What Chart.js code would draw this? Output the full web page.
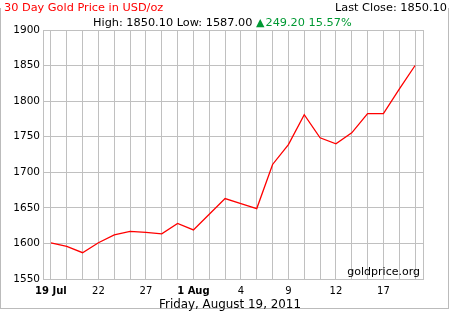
<!DOCTYPE html>
<html>
<head>
<meta charset="utf-8">
<script src="https://cdn.jsdelivr.net/npm/chart.js@4.4.1/dist/chart.umd.min.js"></script>
<style>
  body { margin: 0; background: #fff; }
  #wrap { position: relative; width: 450px; height: 311px; font-family: "DejaVu Sans", Verdana, sans-serif; }
  #chart { position: absolute; left: 0; top: 0; }
  #frame { position: absolute; left: 0; top: 8px; width: 447px; height: 300px; border: 1px solid #bbb; border-top: none; }
  .t { position: absolute; white-space: nowrap; line-height: 1; }
  #title { left: 4px; top: 2px; font-size: 11.3px; color: #ff0000; background: #fff; padding-right: 2px; }
  #close { right: 3px; top: 2px; font-size: 11.3px; color: #000; background: #fff; }
  #stats { left: 93px; top: 17px; font-size: 11.3px; color: #000; }
  #stats .up { color: #009933; }
  #stats .tri { font-size: 11px; margin-right: 1px; }
  #source { right: 30px; top: 266px; font-size: 11px; color: #000; }
  #footer { left: 0; width: 460px; text-align: center; top: 299px; font-size: 11.9px; color: #000; }
</style>
</head>
<body>
<div id="wrap">
  <div id="frame"></div>
  <canvas id="chart" width="450" height="311"></canvas>
  <div class="t" id="title">30 Day Gold Price in USD/oz</div>
  <div class="t" id="close">Last Close: 1850.10</div>
  <div class="t" id="stats">High: 1850.10 Low: 1587.00 <span class="up"><span class="tri">&#9650;</span>249.20 15.57%</span></div>
  <div class="t" id="source">goldprice.org</div>
  <div class="t" id="footer">Friday, August 19, 2011</div>
</div>
<script>
// trading days, 19 Jul - 19 Aug 2011
const dates = ['19 Jul', '20', '21', '22', '25', '26', '27', '28', '29',
  '1 Aug', '2', '3', '4', '5', '8', '9', '10', '11', '12', '15', '16', '17', '18', '19'];

// USD/oz
const prices = [1600.9, 1595.7, 1587.0, 1601.0, 1612.0, 1617.0, 1615.5, 1613.5, 1628.0,
  1619.0, 1641.0, 1663.0, 1656.0, 1649.0, 1711.0, 1739.0, 1781.0, 1748.5, 1740.0,
  1755.5, 1782.5, 1782.5, 1817.0, 1850.1];

const yMin = 1550;
const yMax = 1900;
const yStep = 50;

const gridColor = '#c0c0c0';
const fontFamily = '"DejaVu Sans", Verdana, sans-serif';

// right edge of the plot box
const plotEdge = {
  id: 'plotEdge',
  beforeDatasetsDraw(chart) {
    const { ctx, chartArea } = chart;
    ctx.save();
    ctx.strokeStyle = gridColor;
    ctx.lineWidth = 1;
    ctx.beginPath();
    ctx.moveTo(Math.round(chartArea.right) + 0.5, chartArea.top);
    ctx.lineTo(Math.round(chartArea.right) + 0.5, chartArea.bottom);
    ctx.stroke();
    ctx.restore();
  }
};

new Chart(document.getElementById('chart'), {
  type: 'line',
  data: {
    labels: dates,
    datasets: [{
      data: prices,
      borderColor: '#ff0000',
      borderWidth: 1.3,
      pointRadius: 0,
      tension: 0,
      fill: false
    }]
  },
  options: {
    responsive: false,
    animation: false,
    devicePixelRatio: 1,
    layout: { padding: { top: 30, right: 27, left: 0, bottom: 0 } },
    plugins: {
      legend: { display: false },
      tooltip: { enabled: false }
    },
    scales: {
      x: {
        offset: true,
        afterFit: (scale) => { scale.height = 32; },
        grid: { color: gridColor, offset: false, drawTicks: false },
        border: { color: gridColor },
        ticks: {
          autoSkip: false,
          maxRotation: 0,
          padding: 6,
          color: '#000',
          font: (ctx) => ({
            family: fontFamily,
            size: 10,
            weight: (dates[ctx.index] || '').includes(' ') ? 'bold' : 'normal'
          }),
          callback: (val, i) => (i % 3 === 0 ? dates[i] : '')
        }
      },
      y: {
        min: yMin,
        max: yMax,
        afterFit: (scale) => { scale.width = 43; },
        grid: { color: gridColor, drawTicks: false },
        border: { color: gridColor },
        ticks: {
          stepSize: yStep,
          padding: 3,
          color: '#000',
          font: { family: fontFamily, size: 10.5 },
          callback: (val) => String(val)
        }
      }
    }
  },
  plugins: [plotEdge]
});
</script>
</body>
</html>
